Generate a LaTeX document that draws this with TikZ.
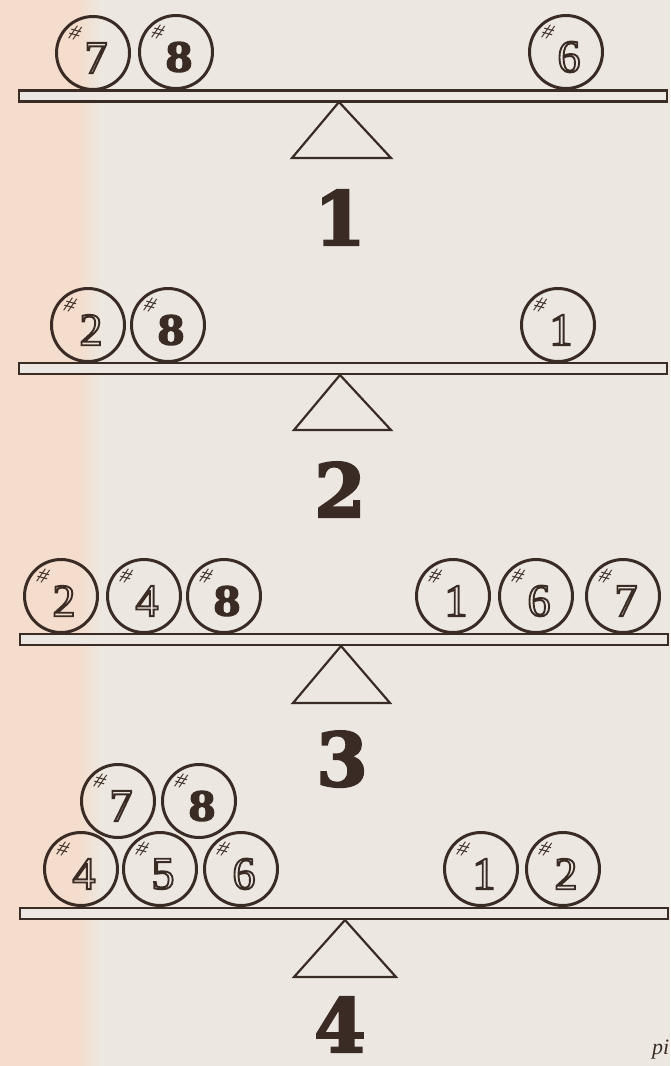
\documentclass[tikz,border=0pt]{standalone}
\usepackage{fontspec}
\setmainfont{Liberation Serif}
\newfontfamily\heavy{DejaVu Serif}[FakeBold=3]
\usetikzlibrary{calc}
\definecolor{ink}{HTML}{3A2C25}
\definecolor{paper}{HTML}{ECE8E1}
\definecolor{peach}{HTML}{F4DDCC}
\newcommand{\outl}[1]{\special{pdf:literal direct 1 Tr 1.9 w}#1\special{pdf:literal direct 0 Tr}}
\tikzset{
  ball/.style={circle, draw=ink, line width=3pt, minimum size=73pt, inner sep=0pt},
  beam/.style={rectangle, draw=ink, line width=2.5pt, fill=paper, minimum width=648pt, minimum height=11pt, inner sep=0pt},
  fulcrum/.style={draw=ink, line width=2.2pt, fill=paper, line join=miter},
  hollow/.style={inner sep=0pt, text=ink, font=\fontsize{46}{46}\selectfont},
  solid8/.style={inner sep=0pt, text=ink, font=\heavy\bfseries\fontsize{40}{40}\selectfont},
  hashmark/.style={inner sep=0pt, text=ink, rotate=-15, font=\itshape\fontsize{22}{22}\selectfont},
  lbl/.style={inner sep=0pt, anchor=base, text=ink, font=\heavy\bfseries\fontsize{74}{74}\selectfont},
}
\newcommand{\hball}[4]{%
  \node[ball] (#1) at (#2,#3) {};
  \node[hollow] (#1n) at ($(#1)+(3,5)$) {\outl{#4}};
  \node[hashmark] (#1h) at ($(#1)+(-18,-20)$) {\#};
}
\newcommand{\bball}[3]{%
  \node[ball] (#1) at (#2,#3) {};
  \node[solid8] (#1n) at ($(#1)+(3,5)$) {8};
  \node[hashmark] (#1h) at ($(#1)+(-18,-20)$) {\#};
}
\begin{document}
\begin{tikzpicture}[x=1pt,y=-1pt]
\useasboundingbox (0,0) rectangle (670,1066);
\clip (0,0) rectangle (670,1066);
\fill[paper] (0,0) rectangle (670,1066);
\fill[peach] (0,0) rectangle (78,1066);
\shade[left color=peach, right color=paper] (78,0) rectangle (102,1066);

% ---------- panel 1 ----------
\node[beam] (beamA) at (343,96) {};
\hball{a7}{93}{53}{7}
\bball{a8}{176}{52}
\hball{a6}{566}{52}{6}
\coordinate (apexA) at (339,102);
\draw[fulcrum] (apexA) -- (391,158) -- (292,158) -- cycle;
\node[lbl] (lA) at (340,245) {1};

% ---------- panel 2 ----------
\node[beam] (beamB) at (343,368.5) {};
\hball{b2}{88}{325}{2}
\bball{b8}{168}{325}
\hball{b1}{558}{325}{1}
\coordinate (apexB) at (340,375);
\draw[fulcrum] (apexB) -- (391,430) -- (294,430) -- cycle;
\node[lbl] (lB) at (340,517) {2};

% ---------- panel 3 ----------
\node[beam] (beamC) at (344,639.5) {};
\hball{c2}{61}{596}{2}
\hball{c4}{144}{596}{4}
\bball{c8}{224}{596}
\hball{c1}{453}{596}{1}
\hball{c6}{536}{596}{6}
\hball{c7}{623}{596}{7}
\coordinate (apexC) at (341,646);
\draw[fulcrum] (apexC) -- (390,703) -- (293,703) -- cycle;
\node[lbl] (lC) at (342,786) {3};

% ---------- panel 4 ----------
\node[beam] (beamD) at (344,913.5) {};
\hball{d4}{81}{869}{4}
\hball{d5}{160}{869}{5}
\hball{d6}{241}{869}{6}
\hball{d7}{118}{801}{7}
\bball{d8}{199}{801}
\hball{d1}{481}{869}{1}
\hball{d2}{563}{869}{2}
\coordinate (apexD) at (345,920);
\draw[fulcrum] (apexD) -- (396,977) -- (294,977) -- cycle;
\node[lbl] (lD) at (340,1052) {4};

\node[anchor=base west, inner sep=0pt, text=ink, font=\itshape\fontsize{22}{22}\selectfont] (pi) at (652,1054) {pi};
\end{tikzpicture}
\end{document}
